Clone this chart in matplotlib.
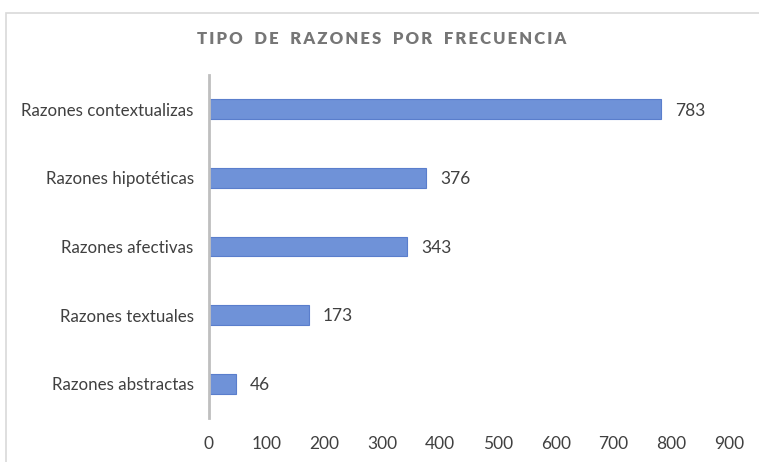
import matplotlib
matplotlib.use("Agg")
import matplotlib.pyplot as plt
from matplotlib.patches import Rectangle

categorias = ["Razones abstractas", "Razones textuales", "Razones afectivas",
              "Razones hipotéticas", "Razones contextualizas"]
frecuencias = [46, 173, 343, 376, 783]
xticks = [0, 100, 200, 300, 400, 500, 600, 700, 800, 900]

plt.rcParams['font.family'] = ['Lato', 'DejaVu Sans']

fig = plt.figure(figsize=(7.59, 4.62), dpi=100)
fig.patches.append(Rectangle((6 / 759, -0.1), 1.1, 1 - 13 / 462 + 0.1,
                             transform=fig.transFigure, fill=False,
                             edgecolor='#d9d9d9', linewidth=1.2))

ax = fig.add_axes([209 / 759, 1 - 418 / 462, 520 / 759, 343 / 462])
pos = range(len(categorias))
ax.barh(pos, frecuencias, height=0.29, color='#6f92d8',
        edgecolor='#5a7ecc', linewidth=0.8)

for y, v in zip(pos, frecuencias):
    ax.text(v + 24, y - 0.02, str(v), va='center', ha='left',
            fontsize=12.5, color='#404040')

ax.set_xlim(0, 900)
ax.set_ylim(-0.5, 4.5)
ax.set_xticks(xticks)
ax.set_xticklabels([str(t) for t in xticks])
ax.set_yticks(list(pos))
ax.set_yticklabels(categorias)
ax.tick_params(axis='both', length=0, labelsize=12.5, colors='#404040')
ax.tick_params(axis='x', pad=13)
ax.tick_params(axis='y', pad=11, labelsize=12.2)

for s in ['top', 'right', 'bottom']:
    ax.spines[s].set_visible(False)
ax.spines['left'].set_color('#bfbfbf')
ax.spines['left'].set_linewidth(2)

titulo = "TIPO DE RAZONES POR FRECUENCIA"
fig.text(382 / 759, 1 - 39 / 462, "\u2009".join(titulo).replace("\u2009 \u2009", "   "),
         ha='center', va='center', fontsize=12, fontweight='heavy',
         color='#767676')

fig.savefig("out.png", dpi=100)
